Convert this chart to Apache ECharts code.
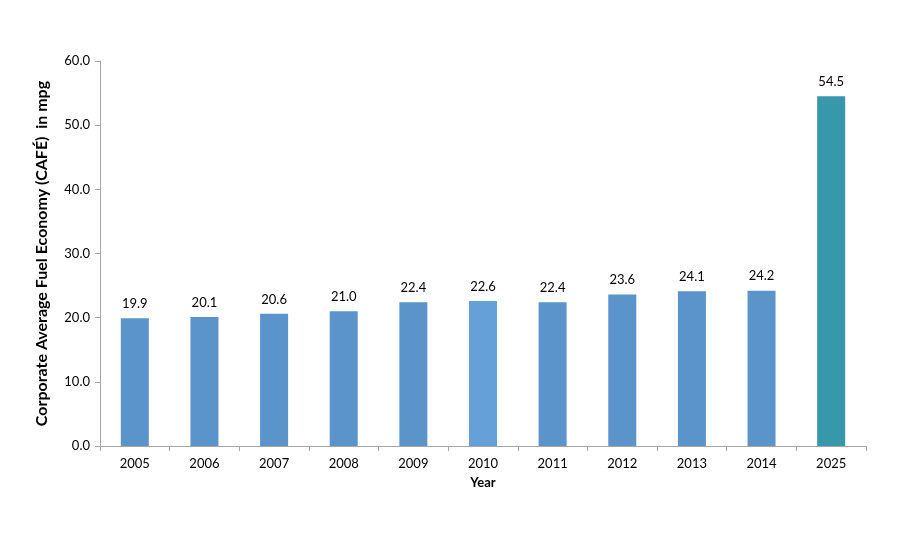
<!DOCTYPE html>
<html>
<head>
<meta charset="utf-8">
<script src="https://cdn.jsdelivr.net/npm/echarts@6/dist/echarts.min.js"></script>
<style>html,body{margin:0;padding:0;background:#fff}#c{width:900px;height:550px}</style>
</head>
<body>
<div id="c"></div>
<script>
var categories = ['2005','2006','2007','2008','2009','2010','2011','2012','2013','2014','2025'];
var values = [19.9, 20.1, 20.6, 21.0, 22.4, 22.6, 22.4, 23.6, 24.1, 24.2, 54.5];
var yTitle = 'Corporate Average Fuel Economy (CAFÉ)  in mpg';
var xTitle = 'Year';
var baseColor = '#5b94cb';
var colorMap = {'2010': '#65a1d8', '2025': '#3797ab'};

var chart = echarts.init(document.getElementById('c'));
var font = 'Lato, "Open Sans", sans-serif';
chart.setOption({
  animation: false,
  backgroundColor: '#fff',
  grid: {left: 100, right: 34, top: 61, bottom: 104},
  xAxis: {
    type: 'category',
    data: categories,
    name: xTitle,
    nameLocation: 'middle',
    nameGap: 30,
    nameTextStyle: {fontFamily: font, fontWeight: 'bold', fontSize: 13, color: '#000'},
    axisLine: {lineStyle: {color: '#a6a6a6', width: 1}},
    axisTick: {show: true, length: 5, lineStyle: {color: '#a6a6a6'}},
    axisLabel: {fontFamily: font, fontSize: 13, color: '#000', margin: 11}
  },
  yAxis: {
    type: 'value',
    min: 0, max: 60, interval: 10,
    name: yTitle,
    nameLocation: 'middle',
    nameGap: 50,
    nameTextStyle: {fontFamily: font, fontWeight: 'bold', fontSize: 16, color: '#000'},
    axisLine: {show: true, lineStyle: {color: '#a6a6a6', width: 1}},
    axisTick: {show: true, length: 5, lineStyle: {color: '#a6a6a6'}},
    splitLine: {show: false},
    axisLabel: {fontFamily: font, fontSize: 13, color: '#000', margin: 10,
      formatter: function(v){ return v.toFixed(1); }}
  },
  series: [{
    type: 'bar',
    barWidth: 28,
    data: values.map(function(v, i){
      return {value: v, itemStyle: {color: colorMap[categories[i]] || baseColor}};
    }),
    label: {show: true, position: 'top', distance: 8, fontFamily: font, fontSize: 13, color: '#000',
      formatter: function(p){ return p.value.toFixed(1); }}
  }]
});
</script>
</body>
</html>
